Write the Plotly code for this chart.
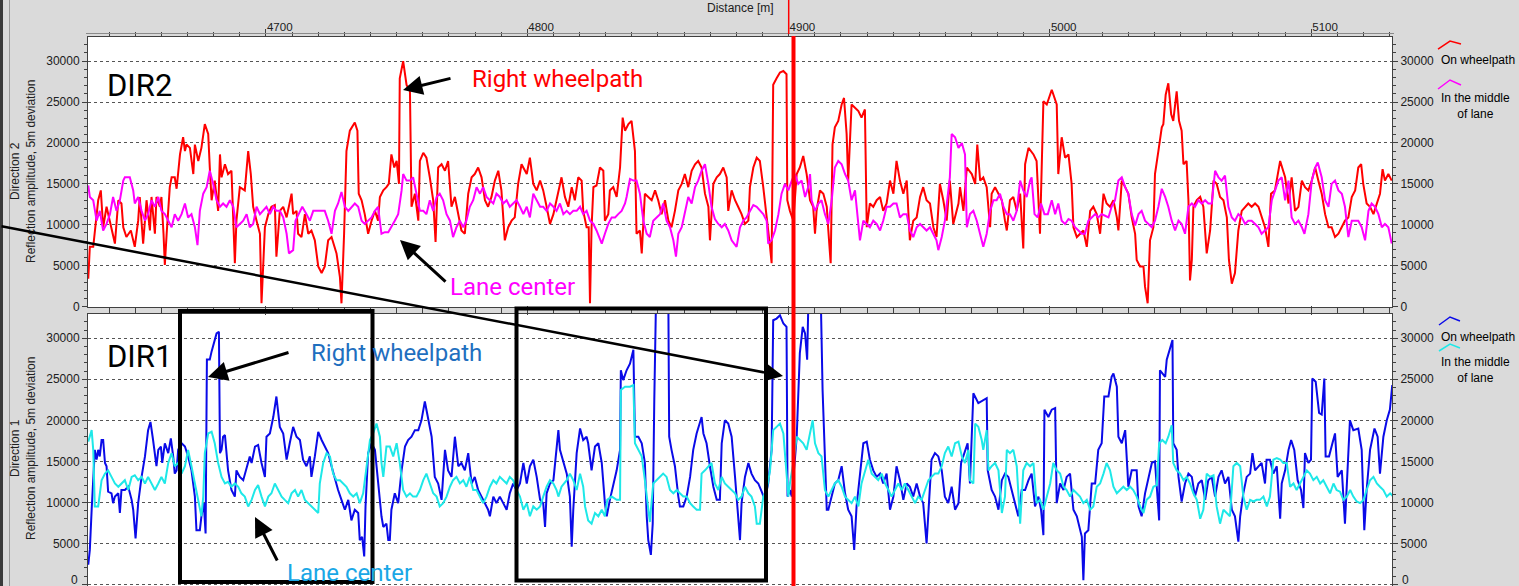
import plotly.graph_objects as go

W, H = 1519, 586

# ---------------- DATA (distance [m], reflection amplitude) ----------------
# Direction 2, on wheelpath (red)
d2_wheel = [4632.0,4632.6,4633.9,4634.5,4635.8,4636.8,4637.7,4639.0,4640.3,4641.5,4642.2,4643.5,4644.7,4645.4,4646.6,4648.3,4649.8,4651.1,4651.7,4653.0,
            4654.3,4655.6,4656.2,4657.5,4658.1,4659.4,4660.0,4660.8,4661.3,4662.0,4663.2,4663.9,4665.1,4665.8,4667.1,4668.3,4669.0,4669.6,4670.9,4672.2,
            4672.8,4674.1,4675.3,4676.6,4677.9,4678.5,4679.2,4680.4,4681.1,4681.7,4682.4,4683.0,4684.3,4685.5,4686.8,4688.1,4688.7,4690.0,4691.9,4693.2,
            4694.2,4695.1,4696.4,4697.7,4698.3,4699.6,4700.9,4702.1,4703.4,4704.0,4705.3,4706.6,4707.9,4709.8,4710.4,4711.7,4712.3,4713.6,4714.9,4716.2,
            4717.4,4718.7,4720.0,4721.3,4722.5,4723.8,4725.1,4727.0,4728.3,4728.9,4729.9,4730.8,4732.1,4734.0,4735.0,4735.5,4736.6,4737.8,4739.1,4740.4,
            4741.7,4742.9,4743.6,4744.9,4746.1,4747.0,4748.0,4749.1,4750.0,4750.9,4751.2,4752.5,4753.8,4755.1,4755.7,4757.0,4758.3,4758.9,4760.2,4761.4,
            4762.7,4764.0,4764.9,4765.9,4767.2,4768.5,4769.7,4771.0,4772.3,4773.6,4774.8,4776.1,4777.4,4778.7,4779.9,4781.2,4782.5,4783.8,4785.0,4786.3,
            4787.6,4788.9,4790.1,4791.4,4792.7,4794.0,4795.2,4796.5,4797.8,
            4799.8,4801.0,4802.3,4803.6,4804.9,4806.1,4807.4,4808.7,4810.0,4811.2,4812.5,4813.1,4814.4,4815.7,4817.0,4818.2,4819.5,4820.8,4821.4,4822.7,
            4823.5,4824.0,4824.6,4825.3,4826.5,4827.8,4829.1,4829.7,4831.0,4831.6,4832.9,4834.2,4835.5,4836.5,4837.4,4838.7,4839.9,4841.2,4841.8,4843.1,
            4843.8,4845.0,4846.3,4847.6,4848.9,4850.1,4851.4,4852.7,4854.0,4855.2,4856.5,4857.8,4859.1,4860.3,4861.6,4862.9,4864.2,4865.4,4866.7,4868.0,
            4869.3,4869.9,4871.2,4872.5,4873.7,4875.0,4876.3,4876.9,4878.2,4879.5,4880.7,4882.0,4883.3,4884.6,4885.2,4886.5,4887.8,4889.0,4890.3,4891.6,
            4892.9,4893.5,4894.1,4895.4,4896.7,4898.0,4899.2,4899.5,4900.5,4901.8,4903.1,4904.3,4905.6,4906.9,4908.2,4909.4,4910.1,4910.7,4912.0,4913.3,
            4914.6,4915.2,4916.1,4916.8,4917.7,4919.0,4920.3,4921.2,4922.2,4922.8,4924.1,4925.4,4926.7,4927.9,4929.2,4929.9,4931.1,4932.4,4933.7,4935.0,
            4936.2,4937.5,4938.8,4940.1,4941.3,4942.6,4943.9,4945.2,4946.4,4947.7,4949.0,4950.3,4951.5,4952.8,4954.1,4955.4,4956.6,4957.9,4959.2,4960.5,
            4961.7,4963.0,
            4965.0,4965.6,4966.9,4968.2,4970.1,4971.4,4972.2,4973.3,4974.5,4975.8,4976.5,4977.1,4977.7,4979.0,4980.3,4981.6,4982.8,4983.5,4984.7,4986.0,
            4987.3,4988.6,4989.8,4990.5,4991.8,4993.7,4994.9,4996.2,4997.5,4998.8,5000.7,5002.6,5003.2,5004.5,5005.8,5007.1,5008.3,5009.0,5010.3,5011.5,
            5012.8,5014.1,5015.4,5016.6,5017.9,5019.2,5020.5,5021.7,5023.0,5024.3,5025.6,5026.2,5027.5,5028.8,5030.0,5031.3,5032.6,5033.2,5034.5,5035.8,
            5036.4,5037.4,5038.3,5039.6,5040.2,5041.5,5042.8,5043.4,5044.3,5045.3,5046.4,5047.2,5048.5,5049.4,5050.4,5051.1,5052.3,5053.0,5053.6,5054.3,
            5054.9,5056.2,5057.5,5058.7,5060.0,5061.3,5062.6,5063.8,5065.1,5066.4,5067.7,5068.5,5069.6,5070.8,5072.1,5073.4,5074.7,5075.9,5077.2,5078.5,
            5079.8,5081.0,5082.3,5083.6,5084.6,5086.1,5088.1,5090.0,5091.3,5092.5,5093.8,5095.1,5096.4,5097.6,5098.9,5100.2,5101.5,5102.7,5104.0,5105.3,
            5106.6,5107.8,5109.1,5110.4,5111.7,5112.9,5114.2,5115.5,5116.8,5118.0,5119.1,5119.9,5121.2,5122.5,5123.8,5125.0,5126.3,5127.3,5128.2,5129.5,
            5130.8]
v2_wheel = [3400,7300,7300,8900,13000,14200,9700,12200,10500,8900,7700,13000,12600,9700,8500,9300,7300,10500,13400,7700,
            13000,9300,13400,8900,13400,12200,13400,8900,5100,8900,14600,15800,15800,14400,18600,20700,19000,19800,19400,16200,
            19800,17800,19400,22300,21100,17000,13000,15400,13000,11700,18600,15800,17400,16200,16600,5300,10500,14600,14200,19000,
            16200,12200,10500,8900,400,9700,11300,12200,12400,6100,11700,12200,10900,13800,11300,11700,8900,8500,11300,8900,
            9300,8100,4900,4100,4900,8100,8500,6500,3600,400,8900,19000,21500,22500,21500,13800,13000,11300,8900,10500,
            11700,10500,13400,14200,14600,15000,18600,17000,17800,15000,27900,30000,27100,26300,12200,13800,10500,17800,18800,18200,
            15800,13000,7900,17000,17400,16600,17800,12200,13400,11300,9300,8900,13800,15800,16200,17000,15800,13000,12200,13400,
            15400,16600,14200,8100,9700,10500,10900,15000,17400,
            16200,18200,15000,14200,15400,14200,12200,10100,11300,13000,14600,15800,13400,12200,14600,13000,15800,15400,11700,9700,
            9700,400,9700,14600,14800,17000,16600,10500,11300,14200,14600,13400,17000,23100,21500,22300,22700,19000,8900,9300,
            6500,13800,13400,13000,14200,13000,11300,13000,10500,9700,11700,14200,15000,16200,14600,16600,17400,17800,17000,13800,
            12200,8100,15000,15800,16200,17000,15800,11700,14200,13000,12200,11300,10100,10500,14600,17000,18200,17800,14600,11300,
            7300,5300,27100,27900,28600,28800,28400,13000,11700,10500,16200,17000,18400,16200,13000,12200,8900,11700,14200,13800,
            12200,9300,5300,19800,21900,22700,24700,25500,21100,15400,24700,24300,23900,23100,24100,9700,12600,12200,13000,13400,
            11700,12600,15400,13800,17800,15400,13800,15400,8100,10500,10900,13400,14600,13000,12600,9700,8500,15000,13000,10500,
            15400,10100,
            12600,14600,11700,17000,16200,15000,19800,15400,15800,14600,12200,9700,13800,14600,13800,13000,10500,9300,13000,13400,
            11700,13800,7100,17400,19400,18600,17800,8900,25100,24700,26500,24700,16200,20700,18200,18600,15000,9700,8500,8900,
            9300,7300,11700,12200,11300,8900,13800,12600,12200,13000,10900,9300,15400,14600,13800,10900,8900,5700,4900,4900,
            2400,400,8100,9700,16200,19000,21900,22300,25900,27300,23500,22700,26300,22700,21500,17400,17800,13000,3200,5700,
            12200,13000,13400,12200,6500,9300,15400,15000,13400,13000,10900,5700,2800,4100,9300,11700,12200,12600,12200,12600,
            12200,10900,9700,7300,13800,14200,17800,15800,12600,15800,11700,12200,15400,14600,14200,15400,17000,15400,13800,11300,
            9700,9700,8500,8900,9700,10500,10900,13400,14200,17000,17400,15000,12600,12200,11300,12600,13800,16800,15400,16200,
            15400]

# Direction 2, in the middle of lane (magenta)
d2_mid = [4632.0,4632.6,4633.9,4635.2,4636.4,4637.7,4639.0,4640.3,4641.5,4642.8,4644.1,4645.4,4646.0,4647.9,4649.2,4649.8,4651.1,4652.4,4653.7,4654.9,
          4656.2,4657.5,4658.8,4660.0,4661.3,4662.6,4663.9,4665.1,4666.4,4667.7,4669.0,4670.2,4671.5,4672.8,4673.8,4674.7,4676.0,4677.3,4678.5,4679.8,
          4681.1,4682.4,4683.6,4684.9,4686.2,4687.5,4688.7,4690.0,4691.3,4692.6,4693.8,4695.1,4696.4,4697.7,4698.9,4700.2,4701.5,4702.8,4704.0,4705.3,
          4706.6,4707.9,4708.8,4710.4,4711.3,4712.6,4713.9,4715.5,4716.8,4718.1,4720.0,4722.5,4723.8,4725.1,4726.4,4727.6,4728.9,4730.2,4731.5,4732.7,
          4734.0,4735.3,4736.6,4737.8,4739.1,4740.4,4741.7,4742.9,4744.2,4745.5,4746.8,4748.0,4749.3,4750.6,4751.9,4752.5,4753.8,4755.1,4756.3,4757.6,
          4758.9,4760.2,4761.4,4762.7,4764.0,4765.3,4766.5,4767.8,4769.1,4770.4,4771.6,4772.9,4774.2,4775.5,4776.7,4778.0,4779.3,4780.6,4781.9,4783.1,
          4784.4,4785.7,4787.0,4788.2,4789.5,4790.8,4792.1,4793.3,4794.6,4795.9,4797.2,
          4798.5,4799.8,4801.0,4802.3,4803.6,4804.9,4806.1,4807.4,4808.7,4810.0,4811.2,4812.5,4813.8,4815.1,4816.3,4817.6,4818.9,4820.2,4821.4,4822.7,
          4824.0,4825.3,4826.5,4827.8,4828.5,4829.7,4831.0,4832.3,4833.6,4834.8,4836.1,4837.4,4838.0,4839.3,4840.6,4841.8,4843.1,4844.4,4845.7,4846.9,
          4848.2,4849.5,4850.8,4852.0,4853.3,4854.6,4855.9,4856.9,4857.8,4859.1,4860.3,4861.6,4862.9,4864.2,4865.4,4866.7,4868.0,4869.3,4870.5,4871.8,
          4873.1,4874.4,4875.6,4876.9,4878.2,4880.1,4881.4,4882.7,4883.9,4885.2,4886.5,4887.8,4889.0,4890.3,4891.6,4892.2,4893.5,4894.8,4896.1,4897.3,
          4898.6,4899.9,4901.2,4902.4,4903.7,4905.0,4906.3,4907.5,4908.2,4908.8,4910.1,4911.4,4912.6,4913.9,4915.2,4916.5,4917.7,4919.0,4920.3,4921.6,
          4922.8,4924.1,4925.4,4926.7,4927.3,4928.6,4929.9,4931.1,4932.4,4933.7,4935.0,4936.2,4937.5,4938.8,4940.1,4941.3,4942.6,4943.9,4945.2,4946.4,
          4947.7,4949.0,4950.3,4951.5,4952.8,4954.1,4955.4,4956.6,4957.3,4958.6,4959.8,4961.1,4961.7,4962.4,4963.7,
          4965.0,4966.3,4967.5,4968.2,4969.4,4970.7,4972.0,4973.3,4974.5,4975.8,4977.1,4978.4,4979.6,4980.9,4982.2,4983.5,4984.7,4986.0,4987.3,4988.6,
          4989.8,4991.1,4992.4,4993.0,4994.1,4995.3,4996.6,4997.9,4999.2,5000.7,5002.0,5003.2,5004.5,5005.8,5007.1,5008.3,5009.6,5010.9,5012.2,5013.4,
          5014.7,5016.0,5017.3,5018.5,5019.8,5021.1,5022.4,5023.6,5024.9,5026.2,5027.5,5028.8,5030.0,5031.3,5032.6,5033.9,5035.1,5036.4,5037.7,5039.0,
          5040.2,5041.5,5042.8,5044.1,5045.3,5046.6,5047.9,5049.2,5050.4,5051.7,5053.0,5054.3,5055.5,5056.8,5058.1,5059.4,5060.6,5061.9,5063.2,5064.5,
          5065.7,5067.0,5068.3,5069.6,5070.8,5072.1,5073.4,5074.7,5075.9,5077.2,5078.5,5079.8,5081.0,5082.3,5083.6,5084.9,5086.1,5087.4,5088.7,5090.0,
          5091.3,5092.5,5093.8,5095.1,5096.4,5097.4,5098.9,5100.2,5101.5,5102.5,5104.0,5105.3,5106.6,5107.8,5109.1,5110.4,5111.7,5112.9,5114.2,5115.5,
          5116.8,5118.0,5119.3,5120.6,5121.9,5123.1,5124.4,5125.7,5127.0,5128.2,5129.5,5130.8]
v2_mid = [14800,13400,13000,10500,11700,9300,10100,11300,13400,11700,13000,15400,15800,15800,14200,12600,13400,11700,10500,11300,
          13000,12200,13400,11700,11300,10500,9700,11300,10500,11300,12600,10900,11300,9700,7500,11700,13800,14600,16600,15000,
          13000,12200,12600,12200,13000,12200,9700,10100,10500,11300,9700,10100,12200,11300,11700,12200,11300,12200,11700,11700,
          10900,8900,6500,6900,10500,11300,12200,11300,10500,11700,11700,11700,10500,8900,11700,12600,14000,12200,11700,12200,
          12600,12200,10500,10100,10500,10900,11700,12200,8900,9100,9100,9700,10500,11300,14200,16200,15400,15400,15800,13800,
          11700,11700,11300,13000,11700,13400,13800,13000,11300,10500,8500,9700,10500,9700,10500,12200,13000,14600,13800,14600,
          13400,13000,12600,13800,13400,12600,13000,12200,12600,13000,12200,
          11300,12200,10900,13800,13000,12200,12200,11700,12600,12200,11700,12600,11300,11700,11300,11700,11700,12200,11300,11700,
          10500,10100,9300,8100,7700,8900,10100,10900,10900,11300,11700,12600,13400,15600,15400,15400,13800,10500,8900,8500,
          10500,10900,11300,12600,10500,9700,8100,6100,8900,9700,11300,13400,12600,14600,15400,16600,17400,15000,12200,10700,
          10100,9700,10100,9300,8100,7300,9700,10500,10900,11700,12400,12200,11700,11300,10500,7700,8100,9300,11300,13800,
          15000,14200,15400,16200,15000,15400,13400,14600,16200,13000,11700,12600,13000,11300,10100,13000,17000,17800,17400,16200,
          15400,13000,14200,9300,8100,10500,10100,9700,10500,10100,9300,10500,12200,12200,12600,12600,10900,11300,11300,9300,
          8500,9700,10100,9700,9300,9700,8900,8100,6900,8500,10500,13800,15800,21100,20700,
          19400,20000,18600,9700,11300,11700,10500,8900,7300,8900,11700,13000,13000,13800,12200,11300,11300,10500,11700,15400,
          14200,13400,15400,15800,11300,10900,12600,11300,11300,13000,11300,12600,10500,10100,10700,10500,9700,9300,8900,8900,
          10500,10900,11300,10900,11300,11100,10900,12200,13000,15400,15800,14600,13800,11300,9900,11300,11700,10500,10100,9700,
          10500,12200,14400,13400,12200,10500,9300,10500,10100,8900,12200,12600,12200,13000,12600,13000,12600,12600,16600,15800,
          15400,16000,12200,10900,10500,11300,10900,10100,10500,10500,10100,9700,8900,9300,9700,13000,14200,15400,15800,13000,
          15400,10900,10100,10500,9700,8900,11300,15400,17000,17600,15800,13000,12200,15000,15400,14200,13800,12200,8500,10500,
          10500,10500,9700,8100,11700,12600,12200,11300,9700,10100,9700,7700]

# Direction 1, on wheelpath (blue)
d1_wheel = [4632.0,4632.6,4633.3,4633.9,4634.5,4635.2,4635.8,4636.4,4637.1,4637.7,4638.4,4639.0,4639.6,4640.9,4641.5,4642.2,4643.5,4644.1,4644.7,4646.0,
            4647.3,4648.6,4649.2,4650.1,4651.1,4652.4,4653.7,4654.9,4655.8,4656.8,4657.5,4658.1,4658.8,4659.8,4660.3,4661.3,4662.6,4663.6,4664.5,4665.1,
            4665.8,4666.4,4667.7,4669.0,4670.2,4671.5,4672.8,4673.4,4674.7,4675.3,4676.2,4676.9,4677.4,4678.5,4679.2,4680.2,4681.1,4682.0,4682.4,4683.0,
            4683.6,4684.3,4684.9,4685.5,4686.8,4688.1,4688.7,4690.0,4691.3,4692.6,4693.8,4694.5,4695.8,4697.0,4698.3,4699.6,4700.2,4701.5,4702.8,4704.0,
            4705.3,4706.6,4707.9,4709.1,4710.4,4711.7,4713.0,4714.2,4715.5,4716.8,4717.4,4718.7,4720.0,4721.3,4722.5,4723.8,4725.1,4726.4,4727.6,4728.9,
            4730.2,4731.5,4732.7,4734.0,4735.3,4735.9,4736.8,4737.6,4738.1,4739.1,4740.4,4741.7,4742.9,4744.2,4744.9,4746.1,4746.8,4747.4,4748.0,4749.3,
            4750.6,4751.9,4753.2,4754.4,4755.7,4757.0,4758.3,4759.5,4760.8,4761.4,4762.7,4763.4,4764.6,4765.9,4767.2,4768.5,4769.7,4771.0,4772.3,4773.6,
            4774.8,4776.1,4777.4,4778.7,4779.9,4781.2,4782.5,4783.8,4785.0,4785.7,4787.0,4788.2,4789.5,4790.8,4792.1,4793.3,4794.6,4795.9,4797.2,
            4798.5,4799.8,4801.0,4802.3,4803.6,4804.9,4806.1,4806.8,4807.4,4808.7,4810.0,4811.2,4811.9,4812.5,4813.8,4815.1,4816.3,4817.0,4817.6,4818.9,
            4820.2,4821.4,4822.7,4823.3,4824.6,4825.9,4827.2,4828.5,4829.7,4830.4,4831.6,4832.9,4834.2,4835.5,4835.8,4836.7,4838.0,4839.3,4840.6,4841.2,
            4842.5,4843.8,4845.0,4845.7,4846.3,4847.3,4848.0,4848.6,4849.2,4854.0,4854.3,4855.2,4856.5,4857.8,4858.4,4859.7,4861.0,4862.3,4863.5,4864.8,
            4866.1,4866.7,4867.4,4868.6,4869.9,4871.2,4872.5,4873.7,4874.4,4875.6,4876.9,4878.2,4879.5,4880.7,4881.4,4882.0,4883.3,4884.6,4885.8,4887.1,
            4888.4,4889.7,4890.9,4892.2,4893.5,4894.1,4895.4,4896.7,4898.0,4899.2,4899.6,4900.5,4901.2,4902.4,4903.1,4904.3,4905.4,4906.3,4907.1,4907.5,
            4912.4,4913.0,4913.9,4914.6,4915.2,4916.5,4917.7,4919.0,4920.3,4921.6,4922.8,4924.1,4925.1,4926.0,4927.3,4928.6,4929.9,4931.1,4932.4,4933.7,
            4935.0,4936.2,4937.5,4938.8,4940.1,4941.3,4942.6,4943.9,4945.2,4946.4,4947.7,4949.0,4950.3,4951.5,4952.8,4953.8,4954.7,4956.0,4957.3,4958.6,
            4959.8,4961.1,4962.4,4963.7,
            4965.0,4966.0,4967.3,4968.5,4969.4,4970.7,4972.6,4974.5,4975.8,4976.2,4977.7,4979.0,4980.3,4981.6,4982.8,4984.1,4986.0,4987.3,4987.9,4989.2,
            4990.5,4991.8,4993.0,4994.3,4995.6,4996.6,4997.5,4997.9,4999.4,5000.7,5002.0,5002.6,5003.9,5005.2,5006.4,5007.7,5009.0,5010.3,5011.5,5012.2,
            5012.8,5013.4,5014.7,5016.0,5017.3,5018.5,5019.8,5020.8,5022.4,5023.6,5024.3,5025.6,5026.2,5027.5,5028.8,5029.4,5030.0,5031.3,5033.2,5033.9,
            5035.1,5036.4,5037.7,5039.0,5040.2,5040.9,5041.8,5042.1,5044.1,5044.7,5046.0,5046.9,5047.2,5048.5,5049.2,5050.4,5051.7,5053.0,5054.3,5055.5,
            5056.8,5058.1,5059.4,5060.6,5061.9,5063.2,5064.5,5065.7,5067.0,5068.3,5069.6,5070.8,5072.1,5072.8,5074.0,5075.3,5076.6,5077.5,5078.5,5079.8,
            5081.0,5082.3,5082.9,5084.2,5085.5,5086.8,5088.1,5088.7,5090.0,5091.3,5092.3,5093.5,5094.8,5096.1,5097.0,5097.6,5098.9,5099.9,5100.4,5101.7,
            5103.0,5104.0,5105.0,5105.5,5106.8,5108.1,5109.1,5110.1,5111.7,5112.9,5114.8,5116.1,5118.0,5119.3,5120.3,5121.2,5122.5,5124.2,5125.4,5126.3,
            5127.6,5128.9,5130.1,5131.0]
v1_wheel = [2400,4200,9100,13900,16400,15200,16400,15600,17600,17600,14800,14400,11300,11100,9900,10700,11100,8700,11500,11500,
            11900,10300,9100,5600,9900,13100,15600,18800,19800,17600,16000,14400,16400,16800,14800,17200,16000,17800,15600,13500,
            13900,16400,17200,16800,15600,13900,10700,6600,6600,8300,9900,6200,27400,27400,28400,29400,30600,30800,16000,16400,
            18000,18200,15600,13900,11500,10700,13900,13100,12700,14400,15600,14800,16800,17000,14800,13100,18000,18400,20400,22900,
            19200,18400,15200,17200,19200,18000,17600,15200,14400,15600,13100,15600,18600,17600,16800,16000,14400,12700,11500,10300,
            9100,10300,7800,9100,8700,5400,5800,3400,9500,16000,17200,16400,12300,8300,7000,7400,5400,5400,9100,11100,
            9900,13900,16800,17600,18000,18800,18800,20000,22300,21300,19200,18000,13100,12300,10300,16400,13900,13100,18000,14400,
            14800,13900,16000,12300,13100,11500,10700,9900,9100,8300,10700,9900,10700,9900,9100,11100,12300,11500,12300,
            14800,12300,14400,15200,13100,10300,9900,7000,11100,12300,12700,16400,18800,16400,14800,13500,10700,4600,9100,16000,
            19000,17600,18000,17200,13900,16800,17200,14800,9900,8300,10300,12300,13900,16400,26100,24900,26100,26900,28600,18000,
            18000,17200,14800,8300,5400,3600,7400,22500,33500,33500,18000,16400,14400,10700,9500,9500,10700,13100,16400,18400,
            19600,20400,18400,17200,14400,11900,10300,10300,17200,20000,19600,18000,13100,8700,5400,9900,13100,14800,13500,12700,
            12300,11300,10300,12300,16400,32200,32400,32800,31800,31400,10700,11500,10700,15200,18000,28200,31400,30600,27400,33500,
            33500,23700,16400,9100,9100,10700,12300,12700,14400,11100,9100,8300,4200,9500,13100,17200,17400,15200,13900,13100,
            13500,12300,13500,9100,10700,14400,12700,10300,12300,11900,10700,12300,10700,9900,5000,10700,15200,16000,15600,13900,
            10700,9900,11900,9100,
            9900,14800,16000,17200,12300,23300,22100,22500,22700,13900,11500,10700,9100,12700,13500,13100,10700,9100,8300,11500,
            11500,12700,13500,9500,10700,9100,6000,21300,20400,21300,21500,9900,12300,11500,13100,13500,9100,8300,6600,5800,
            500,6200,6600,12300,12300,16400,17200,22900,22900,25300,25700,24100,18000,17200,18800,16000,11900,13900,13900,9500,
            8300,11100,13100,14800,15000,12300,7800,26100,25300,27400,29000,29800,17200,16400,13100,10100,12300,13500,13100,10700,
            12300,12700,10300,12700,13100,10700,13100,13900,12300,13100,9100,8300,5200,8300,11100,13100,13500,16000,13900,14400,
            14800,12300,15200,15200,13500,14400,8000,12300,13900,16400,17600,16400,12700,11500,9300,16000,14800,15200,25100,24700,
            20900,20700,25100,15600,15600,17200,18400,13100,13900,7400,20000,18800,19000,16400,6600,11500,16400,19000,18000,13500,
            18000,20000,21300,24300]

# Direction 1, in the middle of lane (cyan)
d1_mid = [4632.0,4633.3,4633.9,4634.5,4635.8,4637.1,4638.4,4639.6,4640.9,4642.2,4643.5,4644.7,4646.0,4647.3,4648.6,4649.8,4651.1,4652.4,4653.7,4654.9,
          4656.2,4657.5,4658.8,4660.0,4661.3,4662.6,4663.9,4665.1,4666.4,4667.7,4669.0,4670.2,4671.5,4672.8,4674.1,4675.3,4676.0,4676.6,4677.9,4679.2,
          4680.4,4681.7,4683.0,4684.3,4685.5,4686.8,4688.1,4689.4,4690.6,4691.9,4693.2,4694.5,4695.8,4697.0,4698.3,4699.6,4700.9,4702.1,4703.4,4704.7,
          4706.0,4707.2,4708.5,4709.8,4711.1,4712.3,4713.6,4714.9,4716.2,4717.4,4718.7,4720.0,4720.6,4721.9,4723.2,4724.5,4725.7,4727.0,4728.3,4729.6,
          4730.8,4732.1,4733.4,4734.7,4735.9,4737.2,4738.5,4739.8,4741.0,4742.3,4743.6,4744.2,4744.9,4746.1,4747.4,4748.7,4750.0,4751.2,4752.5,4753.8,
          4755.1,4756.3,4757.6,4758.9,4760.2,4761.4,4762.7,4764.0,4765.3,4766.5,4767.8,4769.1,4770.4,4771.6,4772.9,4774.2,4775.5,4776.7,4778.0,4779.3,
          4780.6,4781.9,4783.1,4784.4,4785.7,4787.0,4788.2,4789.5,4790.8,4792.1,4793.3,4794.6,4795.9,4797.2,
          4798.5,4799.8,4801.0,4802.3,4803.6,4804.9,4806.1,4807.4,4808.7,4810.0,4811.2,4811.9,4813.1,4815.1,4816.3,4817.6,4818.9,4820.2,4821.4,4822.1,
          4823.3,4824.6,4825.9,4827.2,4828.5,4829.7,4830.6,4832.3,4834.2,4835.5,4835.8,4837.4,4839.3,4840.6,4841.2,4842.5,4843.8,4845.0,4846.3,4846.9,
          4848.2,4849.5,4850.8,4852.0,4853.3,4854.6,4855.9,4857.2,4858.4,4859.7,4861.0,4862.3,4863.5,4864.8,4866.1,4866.7,4868.0,4869.3,4870.5,4871.8,
          4873.1,4874.4,4875.6,4876.9,4878.2,4879.5,4880.7,4882.0,4883.3,4884.6,4885.8,4887.1,4887.8,4889.0,4890.3,4891.6,4892.9,4894.1,4895.4,4896.7,
          4898.0,4899.2,4899.9,4900.5,4901.8,4903.1,4904.3,4905.6,4906.9,4908.2,4909.2,4910.1,4911.4,4912.6,4913.9,4915.2,4916.5,4917.7,4919.0,4920.3,
          4921.6,4922.8,4924.1,4925.4,4926.7,4927.9,4929.2,4930.5,4931.8,4933.0,4934.3,4935.6,4936.9,4938.2,4939.4,4940.7,4942.0,4943.3,4944.5,4945.8,
          4947.1,4948.4,4949.6,4950.9,4952.2,4953.5,4954.7,4956.0,4957.3,4958.6,4959.8,4961.1,4962.4,4963.7,
          4965.0,4966.3,4967.5,4968.8,4969.4,4970.7,4971.4,4972.6,4973.9,4974.5,4975.8,4976.5,4977.7,4979.0,4980.3,4981.6,4982.8,4983.5,4984.7,4986.0,
          4987.3,4988.6,4989.8,4991.1,4992.4,4993.7,4994.9,4996.2,4997.5,4998.8,5000.1,5001.3,5002.6,5003.9,5005.2,5006.4,5007.7,5009.0,5010.3,5011.5,
          5012.8,5014.1,5015.4,5016.6,5017.9,5019.2,5020.5,5021.7,5023.0,5024.3,5025.6,5026.8,5028.1,5029.4,5030.7,5031.9,5033.2,5034.5,5035.8,5037.0,
          5038.3,5039.6,5040.9,5041.8,5043.0,5044.3,5045.3,5046.6,5047.2,5048.5,5049.8,5051.1,5052.3,5053.6,5054.9,5056.2,5057.5,5058.7,5060.0,5061.3,
          5062.6,5063.8,5065.1,5066.4,5067.7,5068.9,5070.2,5071.5,5072.8,5074.0,5075.3,5076.6,5077.9,5079.1,5080.4,5081.7,5083.0,5084.2,5085.5,5086.8,
          5088.1,5089.3,5090.6,5091.9,5093.2,5094.4,5095.7,5097.0,5098.3,5099.5,5100.8,5102.1,5103.4,5104.6,5105.9,5107.2,5108.5,5109.7,5111.0,5112.3,
          5113.6,5114.9,5116.1,5117.4,5118.7,5120.0,5121.2,5122.5,5123.8,5125.1,5126.3,5127.6,5128.9,5130.2,5131.4]
v1_mid = [17400,18800,16400,9500,9500,12700,13500,13900,13100,12300,11900,12300,12700,11500,13100,13300,12700,13100,12300,13100,
          12300,11500,12300,13100,12300,14800,16000,14400,14800,13500,14400,16400,14400,12300,9900,8300,10700,16000,18400,18600,
          17200,14800,13100,12300,12500,11900,12300,11900,11100,10700,9500,10300,11500,12100,10700,9500,10700,11100,12300,11500,
          10700,10300,9900,11100,11500,10700,11500,10300,9900,9500,9100,8700,12300,14800,16000,15600,13500,12700,12700,12300,
          11900,11100,10700,11100,9900,11100,14400,17600,18400,19600,18000,14800,13100,16800,16800,15600,17200,14800,11500,10700,
          11100,10700,10700,11500,12700,13500,12300,11100,10700,9500,9900,10700,11900,12700,13100,12300,12700,11900,13100,11500,
          11500,10700,9900,10700,11900,12700,12300,13100,12700,12300,13100,12700,11500,10700,
          9100,9900,8300,9500,9100,9500,10700,11900,12700,12300,11500,10700,11900,12700,13500,12700,11500,13500,11900,9500,
          7800,7400,8700,8300,9100,8300,10300,10700,10300,10300,23700,24100,24100,24300,17200,16400,15600,12700,8700,7600,
          12300,12700,13100,13500,13100,11500,11100,11500,11100,10700,10700,9900,9500,9100,9100,13500,13900,14400,14800,12300,
          11500,13100,12300,11900,11500,11100,10300,10700,11900,11100,10700,9500,7400,7400,10700,11500,13900,18800,19200,19600,
          18400,13100,10700,12300,14800,18000,17600,17200,16400,18400,20000,17200,16000,15600,11500,10700,11500,12300,12700,11900,
          10700,10300,9900,10700,9500,12300,13900,15200,13500,13100,12700,13500,12300,11500,10700,11500,12300,11500,12300,11500,
          10700,9900,10700,10300,11500,12700,13100,13500,13500,14400,16000,16800,15600,17200,
          17400,15600,14800,16400,12700,12300,19600,19200,17600,16400,18800,13900,14400,14800,13900,8700,10700,16400,16000,16400,
          14400,7400,13900,14800,14400,14800,9900,10300,9100,10700,12300,14800,13900,13500,11900,11500,10700,11500,11100,10700,
          9900,10300,9100,9500,11900,12300,13500,14800,13900,11900,11100,11500,11900,11500,11900,11500,10700,9500,8700,10300,
          10700,11900,12100,17200,17600,17200,18000,19400,14800,13900,13500,12700,13100,12300,11100,10300,8000,9100,13500,13100,
          13300,9500,7400,9100,8700,8300,14400,14800,14400,10700,9100,10300,10100,10300,10300,10700,9500,10700,15200,15400,
          15200,14800,14800,11900,12300,11500,12300,13100,13900,13500,12700,13100,12300,12700,11900,11100,12300,11500,11300,10300,
          10700,11500,10700,10100,9900,10300,11500,12700,13100,12300,11900,11500,10700,11100,10700]

x_range = [4631.9, 5130.9]
y_top_range = [-50, 32950]
y_bot_range = [-200, 32960]

# ---------------- helpers for layout placement (pixel -> paper) ----------------
def px(x):
    return x / W

def py(y):
    return 1 - y / H

PX0, PX1 = 88, 1392
TOP_Y0, TOP_Y1 = 37, 307
BOT_Y0, BOT_Y1 = 314, 586

AXC = '#404040'
GRID = '#555555'
FONT = 'Liberation Sans, Arial, sans-serif'

fig = go.Figure()

fig.add_trace(go.Scatter(x=d2_wheel, y=v2_wheel, mode='lines', line=dict(color='#ff0000', width=2),
                         xaxis='x', yaxis='y', name='On wheelpath'))
fig.add_trace(go.Scatter(x=d2_mid, y=v2_mid, mode='lines', line=dict(color='#ff00ff', width=2),
                         xaxis='x', yaxis='y', name='In the middle of lane'))
fig.add_trace(go.Scatter(x=d1_wheel, y=v1_wheel, mode='lines', line=dict(color='#0a0ae8', width=2),
                         xaxis='x2', yaxis='y2', name='On wheelpath'))
fig.add_trace(go.Scatter(x=d1_mid, y=v1_mid, mode='lines', line=dict(color='#1ee8e8', width=2),
                         xaxis='x2', yaxis='y2', name='In the middle of lane'))
# empty traces so that the right-hand axes are drawn
fig.add_trace(go.Scatter(x=[None], y=[None], xaxis='x', yaxis='y3', hoverinfo='skip'))
fig.add_trace(go.Scatter(x=[None], y=[None], xaxis='x2', yaxis='y4', hoverinfo='skip'))

xcommon = dict(range=x_range, domain=[px(PX0), px(PX1)], tick0=4700, dtick=100,
               ticks='outside', ticklen=7, tickwidth=1, tickcolor=AXC,
               minor=dict(dtick=10, tick0=4700, ticks='outside', ticklen=4, tickcolor=AXC, showgrid=False),
               showline=True, linecolor=AXC, linewidth=1, mirror='ticks',
               showgrid=False, zeroline=False, automargin=False,
               tickfont=dict(family=FONT, size=11.5, color='#202020'))

ycommon = dict(tick0=0, dtick=5000, ticks='outside', ticklen=5, tickcolor=AXC, tickformat='d',
               minor=dict(dtick=1000, tick0=0, ticks='outside', ticklen=3, tickcolor=AXC, showgrid=False),
               showline=True, linecolor=AXC, linewidth=1, zeroline=False, automargin=False,
               tickfont=dict(family=FONT, size=12, color='#202020'))

fig.update_layout(
    width=W, height=H,
    margin=dict(l=0, r=0, t=0, b=0, autoexpand=False),
    paper_bgcolor='#dadada', plot_bgcolor='#ffffff',
    showlegend=False,
    font=dict(family=FONT, size=12, color='#202020'),
    xaxis=dict(**xcommon, side='top', anchor='y', ticklabelposition='outside right'),
    xaxis2=dict(**xcommon, side='bottom', anchor='y2', matches='x', showticklabels=False),
    yaxis=dict(**ycommon, domain=[py(TOP_Y1), py(TOP_Y0)], range=y_top_range, anchor='x', side='left',
               showgrid=True, gridcolor=GRID, griddash='dot', gridwidth=1),
    yaxis3=dict(**ycommon, range=y_top_range, overlaying='y', anchor='x', side='right', showgrid=False),
    yaxis2=dict(**ycommon, domain=[py(BOT_Y1), py(BOT_Y0)], range=y_bot_range, anchor='x2', side='left',
                showgrid=True, gridcolor=GRID, griddash='dot', gridwidth=1),
    yaxis4=dict(**ycommon, range=y_bot_range, overlaying='y2', anchor='x2', side='right', showgrid=False),
)

shapes = []
# left window strip
shapes.append(dict(type='rect', xref='paper', yref='paper', x0=0, x1=px(3), y0=0, y1=1,
                   fillcolor='#3a3a3a', line=dict(width=0), layer='above'))
shapes.append(dict(type='line', xref='paper', yref='paper', x0=px(9.5), x1=px(9.5), y0=0, y1=1,
                   line=dict(color='#9a9a9a', width=1)))
# secondary axis line above the plot frame
shapes.append(dict(type='line', xref='paper', yref='paper', x0=px(86), x1=px(1394), y0=py(33.5), y1=py(33.5),
                   line=dict(color='#8a8a8a', width=1)))
# red cursor
shapes.append(dict(type='line', xref='paper', yref='paper', x0=px(793.5), x1=px(793.5), y0=py(586), y1=py(36),
                   line=dict(color='#ff0000', width=4), layer='above'))
shapes.append(dict(type='line', xref='paper', yref='paper', x0=px(788.7), x1=px(788.7), y0=py(34), y1=py(0),
                   line=dict(color='#ff0000', width=1.5), layer='above'))
# black boxes
for (x0, y0, x1, y1) in [(180, 311, 372.5, 582), (516.5, 308.5, 766, 580.5)]:
    shapes.append(dict(type='rect', xref='paper', yref='paper', x0=px(x0), x1=px(x1), y0=py(y1), y1=py(y0),
                       line=dict(color='#000000', width=4), fillcolor='rgba(0,0,0,0)', layer='above'))
# legend icons
def icon(pts, color):
    p = 'M ' + ' L '.join(f'{px(a):.5f},{py(b):.5f}' for a, b in pts)
    return dict(type='path', xref='paper', yref='paper', path=p, line=dict(color=color, width=1.5))
shapes.append(icon([(1438, 49), (1450, 41), (1461, 44)], '#ff0000'))
shapes.append(icon([(1438, 89), (1450, 80), (1461, 85)], '#ff00ff'))
shapes.append(icon([(1439, 325), (1450, 317), (1460, 321)], '#0a0ae8'))
shapes.append(icon([(1439, 351), (1450, 344), (1460, 348)], '#1ee8e8'))
fig.update_layout(shapes=shapes)

ann = []
def text(x, y, s, size, color, family=FONT, xanchor='left', angle=0):
    ann.append(dict(xref='paper', yref='paper', x=px(x), y=py(y), text=s, showarrow=False,
                    xanchor=xanchor, yanchor='middle', textangle=angle,
                    font=dict(family=family, size=size, color=color)))

text(740, 8, 'Distance [m]', 12, '#202020', xanchor='center')
text(23, 172, 'Direction 2<br>Reflection amplitude, 5m deviation', 12, '#202020', xanchor='center', angle=-90)
text(23, 449, 'Direction 1<br>Reflection amplitude, 5m deviation', 12, '#202020', xanchor='center', angle=-90)
text(1439, 60, 'On wheelpath', 12, '#000000')
text(1439, 106, 'In the middle<br>of lane', 12, '#000000')
text(1439, 337, 'On wheelpath', 12, '#000000')
text(1439, 370, 'In the middle<br>of lane', 12, '#000000')
# bottom "0" tick labels sit at the clipped lower edge
text(80, 580, '0', 12, '#202020', xanchor='right')
text(1400, 580, '0', 12, '#202020', xanchor='left')

CAL = 'Roboto, Noto Sans, sans-serif'
text(105, 86, 'DIR2', 31, '#000000', family=CAL)
text(105, 356, 'DIR1', 31, '#000000', family=CAL)
text(470, 79, 'Right wheelpath', 24, '#ff0000', family=CAL)
text(448, 287, 'Lane center', 24, '#ff00ff', family=CAL)
text(309, 353, 'Right wheelpath', 24, '#1f6fbf', family=CAL)
text(285, 573, 'Lane center', 24, '#1aa7e6', family=CAL)

def arrow(tail, tip, width=3, size=1.3):
    ann.append(dict(xref='paper', yref='paper', x=px(tip[0]), y=py(tip[1]),
                    ax=tail[0] - tip[0], ay=tail[1] - tip[1], axref='pixel', ayref='pixel',
                    text='', showarrow=True, arrowhead=2, arrowsize=size, arrowwidth=width,
                    arrowcolor='#000000', standoff=0))

arrow((452, 78), (403, 90))
arrow((447, 283), (400, 240))
arrow((290, 352), (208, 377))
arrow((278, 562), (255, 517))
arrow((0, 226), (783, 376), width=2.5, size=1.4)

fig.update_layout(annotations=ann)

fig.write_html('out.html', config={'displayModeBar': False},
               post_script="document.body.style.margin='0px';document.body.style.overflow='hidden';")
